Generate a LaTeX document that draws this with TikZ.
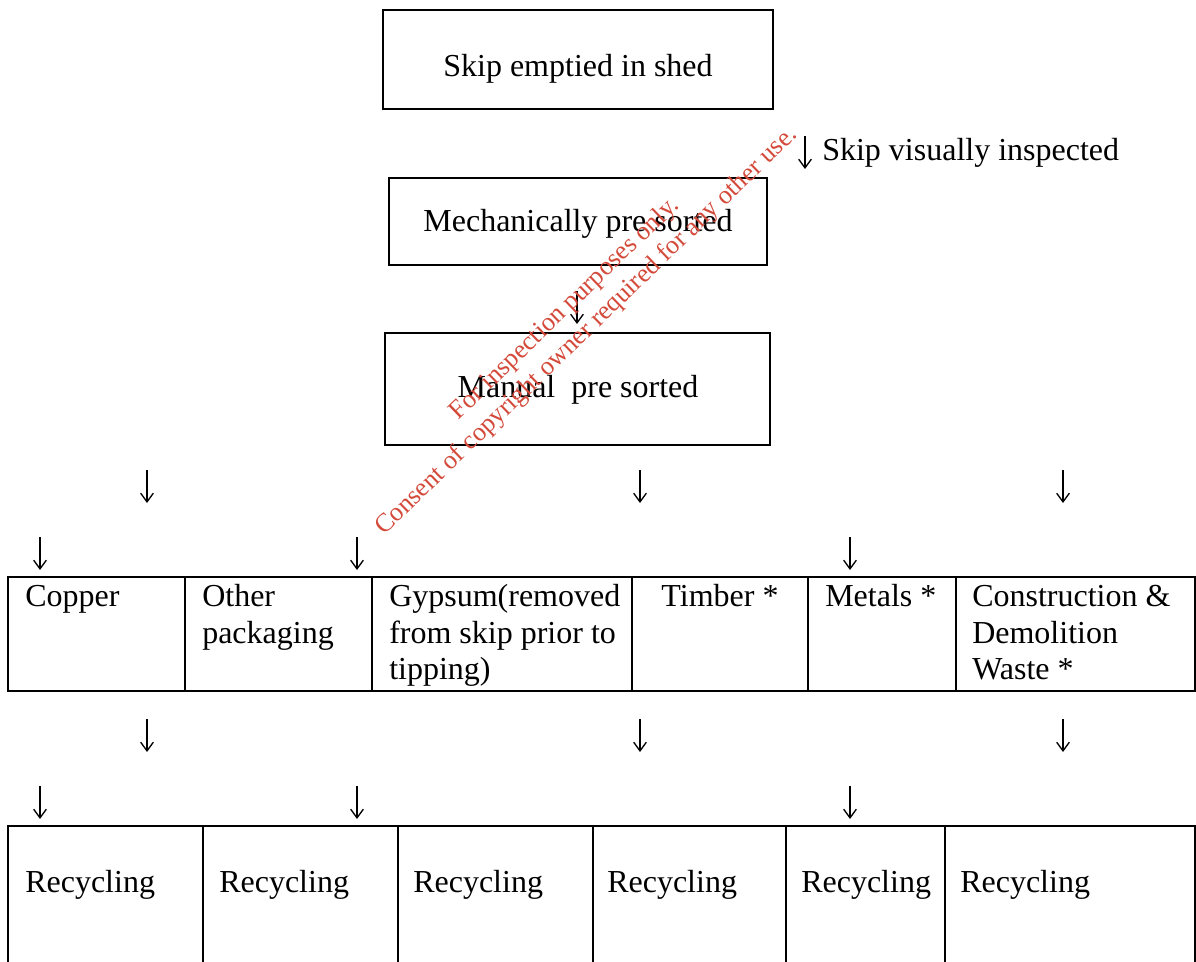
\documentclass[tikz,border=0pt]{standalone}
\usepackage{fontspec}
\setmainfont{Liberation Serif}
\usetikzlibrary{fit,arrows.meta}
\definecolor{wmred}{RGB}{212,74,58}
\begin{document}
\begin{tikzpicture}[x=0.75pt,y=-0.75pt,
  every node/.style={font=\fontsize{24pt}{27.4pt}\selectfont, inner sep=0pt},
  frame/.style={draw, line width=1.6pt, inner sep=0pt},
  rule/.style={line width=1.6pt},
  cell/.style={anchor=north west, align=left},
  flow/.style={line width=1pt, -{Straight Barb[length=6.5pt,width=9.5pt]}},
  stamp/.style={text=wmred, font=\fontsize{19.6pt}{23.2pt}\selectfont, align=center, rotate=44}]
\useasboundingbox (0,0) rectangle (1196,962);

% process boxes
\node[frame, fit={(383,10) (773,109)}] (b1) {};
\node[anchor=base] (t1) at (578,77) {Skip emptied in shed};
\coordinate (s0) at (805,136);
\coordinate (e0) at (805,169);
\draw[flow] (s0) -- (e0);
\node[anchor=base west] (t1a) at (822,161) {Skip visually inspected};

\node[frame, fit={(389,178) (767,265)}] (b2) {};
\node[anchor=base] (t2) at (578,232) {Mechanically pre sorted};
\coordinate (s1) at (577,291);
\coordinate (e1) at (577,324);
\draw[flow] (s1) -- (e1);

\node[frame, fit={(385,333) (770,445)}] (b3) {};
\node[anchor=base] (t3) at (578,398) {Manual\ \ pre sorted};

% arrows towards the sorted fractions and towards recycling
\foreach \ax/\ay/\nm in {147/470/u1, 640/470/u2, 1063/470/u3,
                         40/537/v1, 357/537/v2, 850/537/v3,
                         147/719/w1, 640/719/w2, 1063/719/w3,
                         40/786/z1, 357/786/z2, 850/786/z3}{
  \coordinate (\nm s) at (\ax,\ay);
  \coordinate (\nm e) at (\ax,\ay+33);
  \draw[flow] (\nm s) -- (\nm e);
}

% fractions table
\node[frame, fit={(8,577) (1195,691)}] (tab1) {};
\foreach \cx in {185,372,632,808,956}
  \draw[rule] (\cx,577) -- (\cx,691);
\node[cell] (c1) at (25,581) {\strut Copper};
\node[cell] (c2) at (202,581) {\strut Other\\packaging};
\node[cell] (c3) at (389,581) {\strut Gypsum(removed\\from skip prior to\\tipping)};
\node[anchor=north, align=center] (c4) at (720,581) {\strut Timber *};
\node[cell] (c5) at (825,581) {\strut Metals *};
\node[cell] (c6) at (972,581) {\strut Construction \&\\Demolition\\Waste *};

% recycling table
\draw[rule] (8,962) -- (8,826) -- (1195,826) -- (1195,962);
\foreach \cx in {203,398,593,786,945}
  \draw[rule] (\cx,826) -- (\cx,962);
\foreach \cx/\nm in {25/d1,219/d2,413/d3,607/d4,801/d5,960/d6}
  \node[anchor=base west] (\nm) at (\cx,892) {Recycling};

% inspection stamp
\node[stamp] (wm) at (576,320) {For inspection purposes only.\\Consent of copyright owner required for any other use.};
\end{tikzpicture}
\end{document}
